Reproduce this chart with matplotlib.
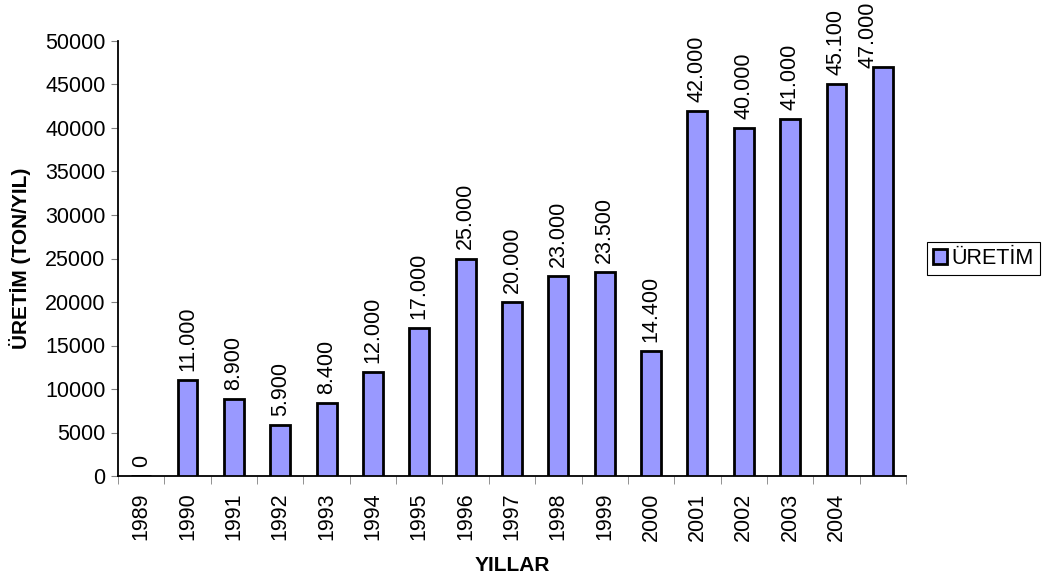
import numpy as np
import matplotlib
matplotlib.use("Agg")
import matplotlib.pyplot as plt
from matplotlib.ticker import MultipleLocator

plt.rcParams['font.family'] = ['Liberation Sans', 'DejaVu Sans']

# data
years = ["1989", "1990", "1991", "1992", "1993", "1994", "1995", "1996",
         "1997", "1998", "1999", "2000", "2001", "2002", "2003", "2004", ""]
uretim = [0, 11000, 8900, 5900, 8400, 12000, 17000, 25000, 20000,
          23000, 23500, 14400, 42000, 40000, 41000, 45100, 47000]

fig = plt.figure(figsize=(10.43, 5.81), dpi=100)
ax = fig.add_axes([118/1043, 1 - 476/581, (906 - 118)/1043, (476 - 41)/581])

x = np.arange(len(uretim))
bars = ax.bar(x, uretim, width=0.43, color="#9999FF", edgecolor="black",
              linewidth=2, label="ÜRETİM", zorder=3)

# value labels, thousands with a dot
for xi, v in zip(x, uretim):
    txt = f"{v:,}".replace(",", ".")
    if xi == len(uretim) - 1:
        # no room above the last bar: pushed down and left like the original
        ax.annotate(txt, (xi, 1.0), xycoords=("data", "figure fraction"),
                    xytext=(-10.5, -1), textcoords="offset points",
                    rotation=90, ha="center", va="top", fontsize=15.5,
                    annotation_clip=False, zorder=4)
    else:
        ax.annotate(txt, (xi, v), xytext=(0, 6.5), textcoords="offset points",
                    rotation=90, ha="center", va="bottom", fontsize=15.5,
                    annotation_clip=False)

ax.set_xlim(-0.5, len(uretim) - 0.5)
ax.set_ylim(0, 50000)
ax.yaxis.set_major_locator(MultipleLocator(5000))
ax.tick_params(axis="y", labelsize=15.5, length=5, color="#808080", pad=4)

ax.set_xticks(x)
ax.set_xticklabels(years, rotation=90)
ax.set_xticks(np.arange(-0.5, len(uretim)), minor=True)
ax.tick_params(axis="x", which="major", length=0, labelsize=15.5, pad=12)
ax.tick_params(axis="x", which="minor", length=6, color="#808080")

for s in ["top", "right"]:
    ax.spines[s].set_visible(False)
for s in ["left", "bottom"]:
    ax.spines[s].set_color("black")
    ax.spines[s].set_linewidth(1.3)

ax.set_ylabel("ÜRETİM (TON/YIL)", fontsize=15, fontweight="bold", labelpad=10)
ax.set_xlabel("YILLAR", fontsize=15, fontweight="bold", labelpad=11)

leg = fig.legend(handles=[bars], labels=["ÜRETİM"], loc="center left",
                 bbox_to_anchor=(927/1043, 1 - 258.5/581), fontsize=15.5,
                 fancybox=False, edgecolor="black", framealpha=1,
                 handlelength=0.65, handleheight=0.65, handletextpad=0.2,
                 borderpad=0.3, borderaxespad=0)
leg.get_frame().set_linewidth(0.8)

fig.savefig("out.png", dpi=100)
